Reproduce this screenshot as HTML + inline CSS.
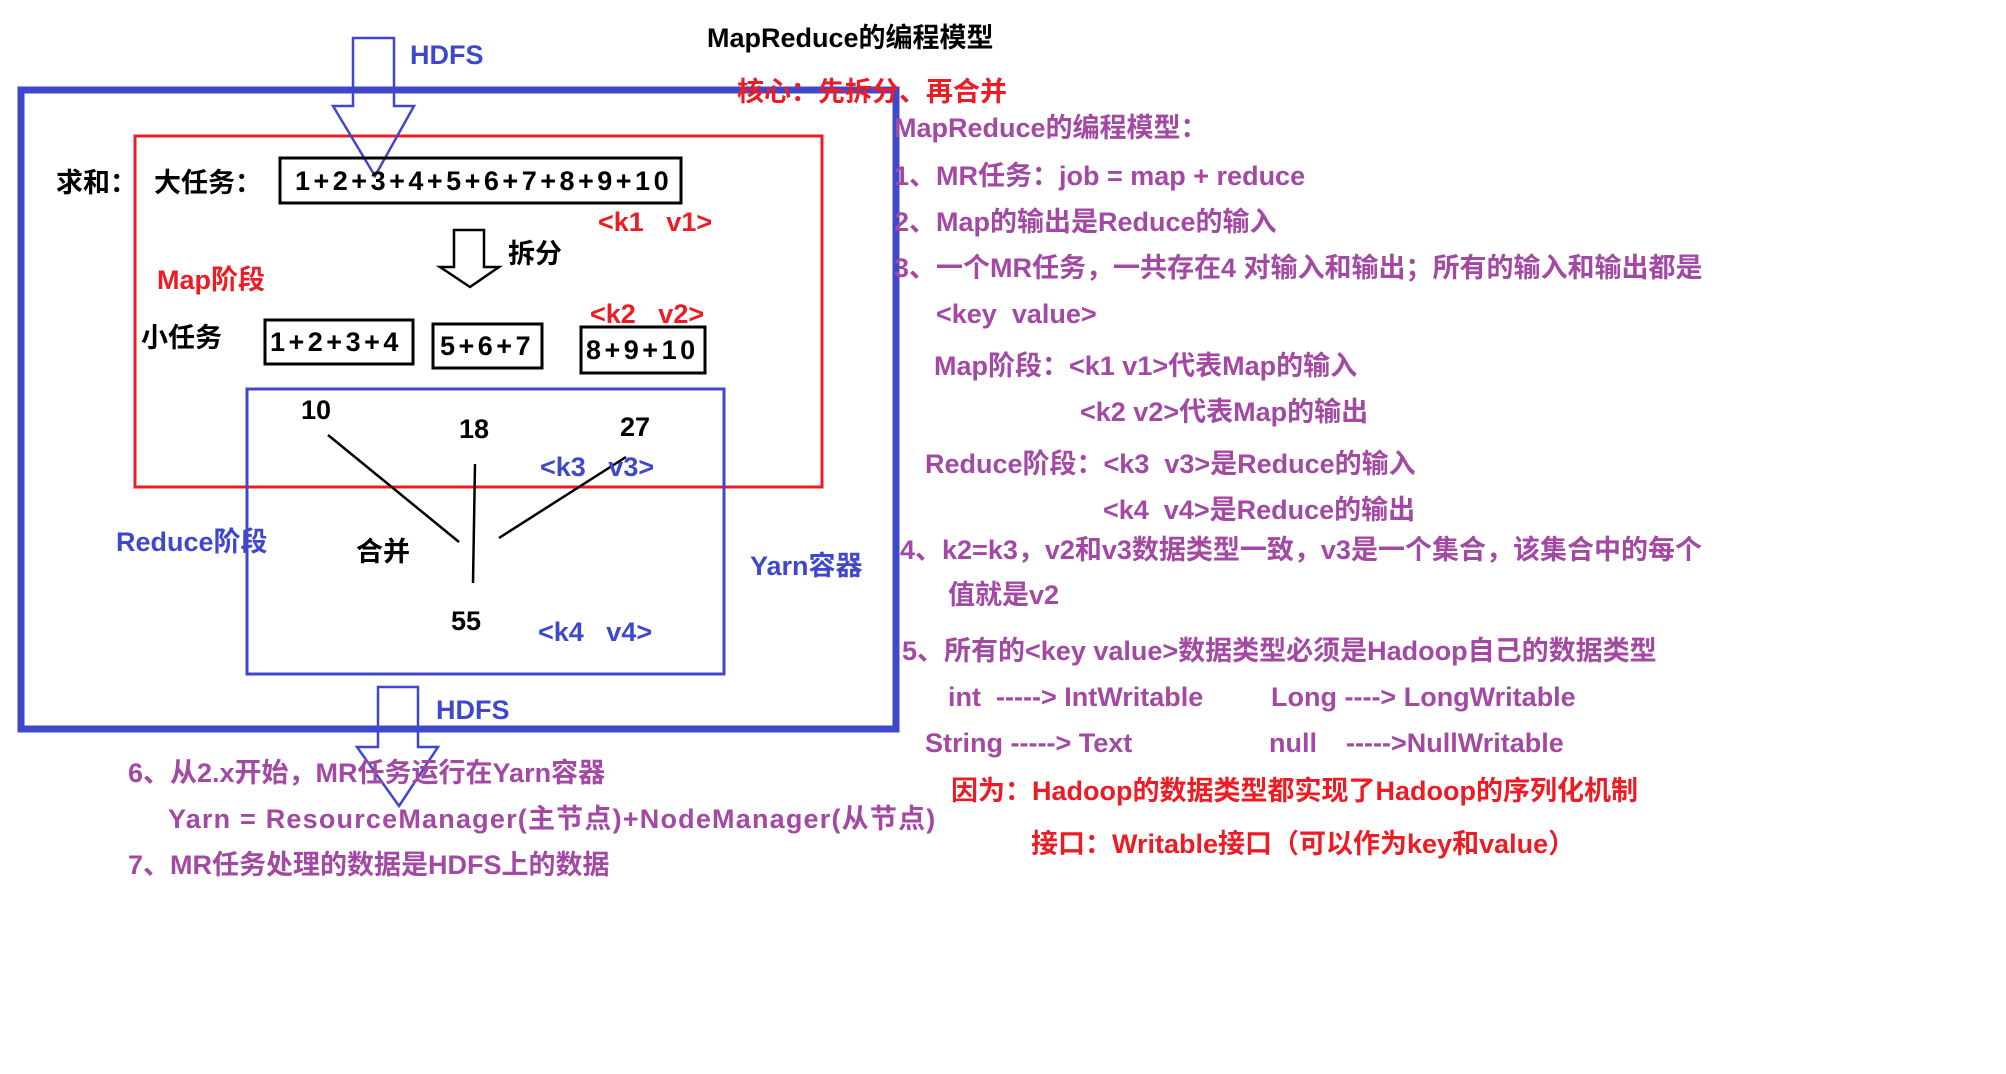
<!DOCTYPE html>
<html><head><meta charset="utf-8"><style>
html,body{margin:0;padding:0;background:#fff;}
svg{display:block;}
text{font-family:"Liberation Sans","Noto Sans CJK SC",sans-serif;font-weight:bold;dominant-baseline:central;}
.p{fill:#a349a4;font-size:27px;}
.b{fill:#3f48cc;font-size:27px;}
.r{fill:#ed1c24;font-size:27px;}
.k{fill:#000;font-size:27px;}
.n{letter-spacing:3.5px;}
</style></head><body>
<svg width="2006" height="1074" viewBox="0 0 2006 1074" xmlns="http://www.w3.org/2000/svg">
<rect x="0" y="0" width="2006" height="1074" fill="#fff"/>
<rect x="21" y="90" width="875" height="639" fill="none" stroke="#3f48cc" stroke-width="7"/>
<rect x="135" y="136" width="687" height="351" fill="none" stroke="#ed1c24" stroke-width="3"/>
<rect x="247" y="389" width="477" height="285" fill="none" stroke="#3f48cc" stroke-width="3"/>
<path d="M353 38 L394 38 L394 106 L414 106 L375 176 L333 106 L353 106 Z" fill="none" stroke="#3f48cc" stroke-width="2.5"/>
<path d="M378 687 L418 687 L418 747 L438 747 L399 806 L357 747 L378 747 Z" fill="none" stroke="#3f48cc" stroke-width="2.5"/>
<path d="M454 230 L484 230 L484 267 L499 267 L470 287 L440 267 L454 267 Z" fill="#fff" stroke="#000" stroke-width="2.5"/>
<rect x="280" y="158" width="401" height="45" fill="none" stroke="#000" stroke-width="3"/>
<rect x="265" y="320" width="148" height="44" fill="none" stroke="#000" stroke-width="3"/>
<rect x="433" y="324" width="109" height="44" fill="none" stroke="#000" stroke-width="3"/>
<rect x="581" y="327" width="124" height="46" fill="none" stroke="#000" stroke-width="3"/>
<line x1="328" y1="435" x2="459" y2="542" stroke="#000" stroke-width="2.5"/>
<line x1="475" y1="464" x2="473" y2="583" stroke="#000" stroke-width="2.5"/>
<line x1="499" y1="538" x2="626" y2="457" stroke="#000" stroke-width="2.5"/>

<text class="b" x="410" y="55">HDFS</text>
<text class="k" x="707" y="38">MapReduce的编程模型</text>
<text class="r" x="737" y="92">核心：先拆分、再合并</text>
<text class="k" x="56" y="183">求和：</text>
<text class="k" x="154" y="183">大任务：</text>
<text class="k n" x="295" y="181">1+2+3+4+5+6+7+8+9+10</text>
<text class="r" x="598" y="222">&lt;k1&#160;&#160;&#160;v1&gt;</text>
<text class="k" x="508" y="254">拆分</text>
<text class="r" x="157" y="280">Map阶段</text>
<text class="r" x="590" y="314">&lt;k2&#160;&#160;&#160;v2&gt;</text>
<text class="k" x="141" y="338">小任务</text>
<text class="k n" x="270" y="342">1+2+3+4</text>
<text class="k n" x="440" y="346">5+6+7</text>
<text class="k n" x="586" y="350">8+9+10</text>
<text class="k" x="301" y="410">10</text>
<text class="k" x="459" y="429">18</text>
<text class="k" x="620" y="427">27</text>
<text class="b" x="540" y="467">&lt;k3&#160;&#160;&#160;v3&gt;</text>
<text class="b" x="116" y="542">Reduce阶段</text>
<text class="k" x="356" y="552">合并</text>
<text class="b" x="750" y="566">Yarn容器</text>
<text class="k" x="451" y="621">55</text>
<text class="b" x="538" y="632">&lt;k4&#160;&#160;&#160;v4&gt;</text>
<text class="b" x="436" y="710">HDFS</text>
<text class="p" x="128" y="773">6、从2.x开始，MR任务运行在Yarn容器</text>
<text class="p" x="168" y="819" style="letter-spacing:1.2px">Yarn = ResourceManager(主节点)+NodeManager(从节点)</text>
<text class="p" x="128" y="865">7、MR任务处理的数据是HDFS上的数据</text>

<text class="p" x="894" y="128">MapReduce的编程模型：</text>
<text class="p" x="894" y="176">1、MR任务：job = map + reduce</text>
<text class="p" x="894" y="222">2、Map的输出是Reduce的输入</text>
<text class="p" x="894" y="268">3、一个MR任务，一共存在4 对输入和输出；所有的输入和输出都是</text>
<text class="p" x="936" y="314">&lt;key&#160;&#160;value&gt;</text>
<text class="p" x="934" y="366">Map阶段：&lt;k1 v1&gt;代表Map的输入</text>
<text class="p" x="1080" y="412">&lt;k2 v2&gt;代表Map的输出</text>
<text class="p" x="925" y="464">Reduce阶段：&lt;k3&#160;&#160;v3&gt;是Reduce的输入</text>
<text class="p" x="1103" y="510">&lt;k4&#160;&#160;v4&gt;是Reduce的输出</text>
<text class="p" x="900" y="550">4、k2=k3，v2和v3数据类型一致，v3是一个集合，该集合中的每个</text>
<text class="p" x="948" y="595">值就是v2</text>
<text class="p" x="902" y="651">5、所有的&lt;key value&gt;数据类型必须是Hadoop自己的数据类型</text>
<text class="p" x="948" y="697">int&#160;&#160;-----&gt; IntWritable</text>
<text class="p" x="1271" y="697">Long ----&gt; LongWritable</text>
<text class="p" x="925" y="743">String -----&gt; Text</text>
<text class="p" x="1269" y="743">null</text>
<text class="p" x="1346" y="743">-----&gt;NullWritable</text>
<text class="r" x="951" y="791">因为：Hadoop的数据类型都实现了Hadoop的序列化机制</text>
<text class="r" x="1031" y="844">接口：Writable接口（可以作为key和value）</text>
</svg>
</body></html>
